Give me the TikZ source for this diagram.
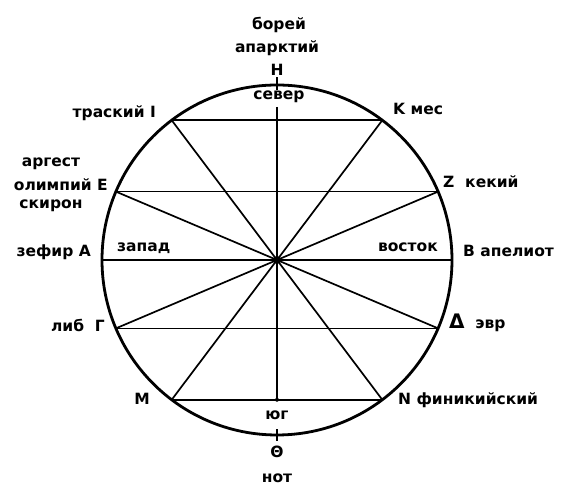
\documentclass[tikz,border=0pt]{standalone}
\usepackage{fontspec}
\setmainfont{DejaVu Sans}
\usetikzlibrary{calc}

\begin{document}
\begin{tikzpicture}[x=1pt,y=1pt,
    wind/.style={inner sep=0pt,font=\bfseries\fontsize{15.5}{17}\selectfont},
    chord/.style={line width=1.7pt}]
    \useasboundingbox (0,0) rectangle (566,489);
    \coordinate (c) at (277,229);
    % points on the circle
    \coordinate (K) at ($(c)+(53:175)$);
    \coordinate (I) at ($(c)+(127:175)$);
    \coordinate (Z) at ($(c)+(23:175)$);
    \coordinate (E) at ($(c)+(157:175)$);
    \coordinate (B) at ($(c)+(0:175)$);
    \coordinate (A) at ($(c)+(180:175)$);
    \coordinate (D) at ($(c)+(-23:175)$);
    \coordinate (G) at ($(c)+(203:175)$);
    \coordinate (N) at ($(c)+(-53:175)$);
    \coordinate (M) at ($(c)+(233:175)$);
    \coordinate (vt) at (277,382);
    \draw[line width=2.8pt] (c) circle (175);
    % chords
    \draw[chord] (I) to (K);
    \draw[chord] (E) to (Z);
    \draw[chord] (A) to (B);
    \draw[chord] (G) to (D);
    \draw[chord] (M) to (N);
    \draw[chord] (I) to (N);
    \draw[chord] (K) to (M);
    \draw[chord] (E) to (D);
    \draw[chord] (Z) to (G);
    \draw[chord] (vt) to (c|-M);
    \fill (c) circle (4);
    \fill (c|-M) circle (2);
    \draw[chord] (277,399) to (277,412);
    \draw[chord] (277,48) to (277,60);
    % labels
    \node[wind] (bor) at (279,464) {борей};
    \node[wind] (apa) at (277,441) {апарктий};
    \node[wind] (eta) at (277,419) {Η};
    \node[wind] (sev) at (279,392) {север};
    \node[wind,anchor=mid east] (tra) at (156,374) {траский Ι};
    \node[wind] (arg) at (51,325) {аргест};
    \node[wind,anchor=mid east] (oli) at (108,301) {олимпий Ε};
    \node[wind] (ski) at (51,283) {скирон};
    \node[wind,anchor=mid west] (mes) at (393,377) {Κ мес};
    \node[wind,anchor=mid west] (kek) at (443,304) {Ζ\ \ кекий};
    \node[wind,anchor=mid east] (zef) at (91,235) {зефир Α};
    \node[wind,anchor=mid west] (zap) at (117,240) {запад};
    \node[wind,anchor=mid east] (vos) at (438,240) {восток};
    \node[wind,anchor=mid west] (ape) at (463,235) {Β апелиот};
    \node[wind,anchor=mid east] (lib) at (105,160) {либ\ \ Γ};
    \node[wind,anchor=mid west] (evr) at (449,163) {{\fontsize{20}{20}\selectfont Δ}\ \ эвр};
    \node[wind,anchor=mid east] (mu) at (150,87) {Μ};
    \node[wind,anchor=mid west] (fin) at (398,87) {Ν финикийский};
    \node[wind] (yug) at (277,74) {юг};
    \node[wind] (the) at (277,37) {Θ};
    \node[wind] (not) at (277,11) {нот};
\end{tikzpicture}
\end{document}
